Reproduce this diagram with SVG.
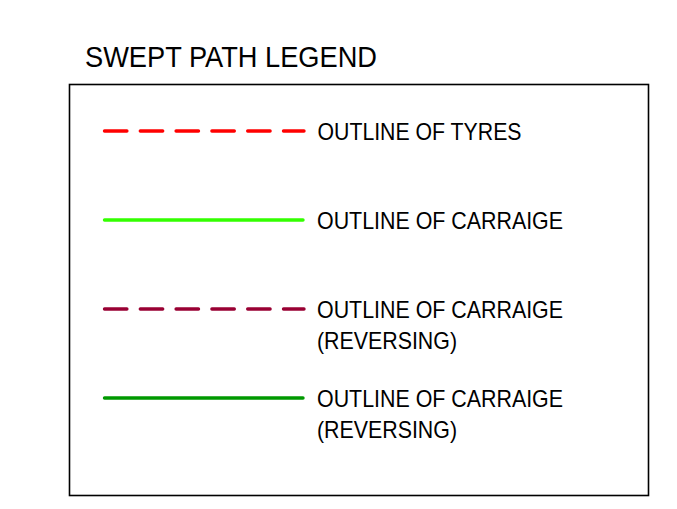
<svg xmlns="http://www.w3.org/2000/svg" width="677" height="509" viewBox="0 0 677 509">
  <style>
    text { font-family: "Liberation Sans", Arial, sans-serif; fill: #000; }
    .title { font-size: 30px; }
    .lbl { font-size: 24px; }
    .ln { fill: none; stroke-width: 3.4; stroke-linecap: round; }
    .dash { stroke-dasharray: 22.4 13.4; }
  </style>
  <rect width="677" height="509" fill="#ffffff"/>
  <text id="title" class="title" x="85" y="67" textLength="292" lengthAdjust="spacingAndGlyphs">SWEPT PATH LEGEND</text>
  <rect id="frame" x="69.5" y="84.5" width="579" height="411" fill="none" stroke="#000" stroke-width="1.6"/>
  <g id="connectors">
    <line class="ln dash" x1="104.5" y1="131" x2="304" y2="131" stroke="#ff0000"/>
    <line class="ln" x1="104.5" y1="220" x2="303" y2="220" stroke="#33ff00"/>
    <line class="ln dash" x1="104.5" y1="309" x2="304" y2="309" stroke="#990033"/>
    <line class="ln" x1="104.5" y1="398" x2="303" y2="398" stroke="#009900"/>
  </g>
  <g id="tyres">
    <text class="lbl" x="317.5" y="140" textLength="204" lengthAdjust="spacingAndGlyphs">OUTLINE OF TYRES</text>
  </g>
  <g id="carraige">
    <text class="lbl" x="317" y="228.5" textLength="246" lengthAdjust="spacingAndGlyphs">OUTLINE OF CARRAIGE</text>
  </g>
  <g id="carraige-reversing-1">
    <text class="lbl" x="317" y="317.5" textLength="246" lengthAdjust="spacingAndGlyphs">OUTLINE OF CARRAIGE</text>
    <text class="lbl" x="317" y="348.5" textLength="140" lengthAdjust="spacingAndGlyphs">(REVERSING)</text>
  </g>
  <g id="carraige-reversing-2">
    <text class="lbl" x="317" y="407" textLength="246" lengthAdjust="spacingAndGlyphs">OUTLINE OF CARRAIGE</text>
    <text class="lbl" x="317" y="438" textLength="140" lengthAdjust="spacingAndGlyphs">(REVERSING)</text>
  </g>
</svg>
